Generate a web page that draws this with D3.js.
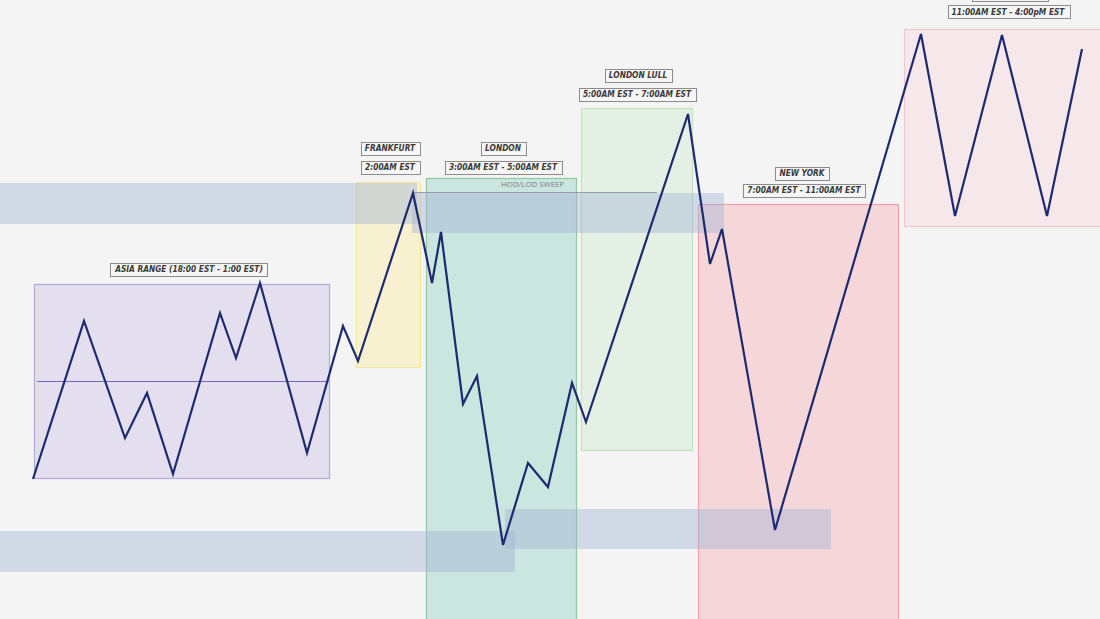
<!DOCTYPE html>
<html><head><meta charset="utf-8">
<script src="https://cdn.jsdelivr.net/npm/d3@7"></script>
<style>html,body{margin:0;padding:0;background:#f4f4f4;overflow:hidden}</style>
</head><body>
<svg id="chart" width="1100" height="619"></svg>
<script>
// ---- price path (time, price) ----
const pathTime  = [33,84,125,147,173,220,236,260,307,343,358,413,432,441,463,477,503,528,548,572,586,688,710,722,775,921,955,1002,1047,1082];
const pathPrice = [140,298,181,226,145,306,261,336,166,293,258,426,336,387,215,243,74,156,132,236,197,505,355,390,89,585,403,584,403,570];

// ---- sessions ----
const sessionNames = ["asia","frankfurt","london","lull","newyork","pm"];
const sessionStart = [34,356,426,581,698,904];
const sessionEnd   = [329,420,576,692,898,1104];
const sessionHigh  = [335,437,441,511,415,590];
const sessionLow   = [141,252,-25,169,-25,393];

// ---- liquidity bands ----
const bandStart = [0,412,0,505];
const bandEnd   = [417,724,515,831];
const bandHigh  = [436,426,88,110];
const bandLow   = [395,386,47,70];

// ---- HOD/LOD sweep line ----
const sweepStart = 412, sweepEnd = 657, sweepPrice = 427;
const sweepLabel = "HOD/LOD SWEEP";

// ---- labels ----
const labelText  = ["ASIA RANGE (18:00 EST - 1:00 EST)","FRANKFURT","2:00AM EST","LONDON","3:00AM EST - 5:00AM EST","LONDON LULL","5:00AM EST - 7:00AM EST","NEW YORK","7:00AM EST - 11:00AM EST","11:00AM EST - 4:00pM EST"];
const labelTime  = [189,390,390,503,503,638,637,802,804,1008];
const labelPrice = [350,471,452,471,452,544,525,446,429,607];

// clipped label box at the top edge (its text lies outside the picture)
const clippedStart = 972, clippedEnd = 1048, clippedPrice = 624;

const W = 1100, H = 619;
const x = d3.scaleLinear().domain([0,1100]).range([0,W]);
const y = d3.scaleLinear().domain([0,619]).range([H,0]);

const sessionFill   = {asia:"#e3dfee",frankfurt:"#f7f1d2",london:"#cbe6df",lull:"#e5f0e4",newyork:"#f5d6d9",pm:"#f6e7eb"};
const sessionStroke = {asia:"#b1a9dc",frankfurt:"#f3e5a2",london:"#8ecb9c",lull:"#c2e2c0",newyork:"#f1a2aa",pm:"#f3c8d1"};

const svg = d3.select("#chart");
svg.append("rect").attr("width",W).attr("height",H).attr("fill","#f4f4f4");

const sessions = sessionNames.map((n,i)=>({n,x0:sessionStart[i],x1:sessionEnd[i],hi:sessionHigh[i],lo:sessionLow[i]}));
svg.append("g").selectAll("rect").data(sessions).join("rect")
  .attr("x",d=>x(d.x0)+0.5).attr("y",d=>y(d.hi)+0.5)
  .attr("width",d=>x(d.x1)-x(d.x0)).attr("height",d=>y(d.lo)-y(d.hi))
  .attr("fill",d=>sessionFill[d.n]).attr("stroke",d=>sessionStroke[d.n]).attr("stroke-width",1.2);

// asia midline
const asia = sessions[0];
svg.append("line")
  .attr("x1",x(asia.x0)+3).attr("x2",x(asia.x1))
  .attr("y1",Math.round(y((asia.hi+asia.lo)/2))+0.5).attr("y2",Math.round(y((asia.hi+asia.lo)/2))+0.5)
  .attr("stroke","#7a66bd").attr("stroke-width",1);

// bands
const bands = bandStart.map((b,i)=>({x0:b,x1:bandEnd[i],hi:bandHigh[i],lo:bandLow[i]}));
svg.append("g").selectAll("rect").data(bands).join("rect")
  .attr("x",d=>x(d.x0)).attr("y",d=>y(d.hi))
  .attr("width",d=>x(d.x1)-x(d.x0)).attr("height",d=>y(d.lo)-y(d.hi))
  .attr("fill","rgba(160,179,213,0.42)");

// sweep line
svg.append("line").attr("x1",x(sweepStart)).attr("x2",x(sweepEnd))
  .attr("y1",Math.round(y(sweepPrice))+0.5).attr("y2",Math.round(y(sweepPrice))+0.5)
  .attr("stroke","#9a9ab0").attr("stroke-width",1);
svg.append("text").attr("x",x(564)).attr("y",y(sweepPrice)-5)
  .attr("text-anchor","end").attr("font-family","'Open Sans',sans-serif").attr("font-size",7.8)
  .attr("fill","#7d7d85").text(sweepLabel);

// price line
const pts = pathTime.map((t,i)=>[t,pathPrice[i]]);
svg.append("path").datum(pts)
  .attr("d",d3.line().x(d=>x(d[0])).y(d=>y(d[1])))
  .attr("fill","none").attr("stroke","#1d2a70").attr("stroke-width",2.2).attr("stroke-linejoin","miter");

// labels
const lg = svg.append("g");
labelText.forEach((t,i)=>{
  const g = lg.append("g");
  const rect = g.append("rect");
  const txt = g.append("text").attr("x",x(labelTime[i])).attr("y",y(labelPrice[i])+3)
    .attr("text-anchor","middle").attr("font-family","'DejaVu Sans Condensed','DejaVu Sans',sans-serif")
    .attr("font-weight","bold").attr("font-style","italic").attr("font-size",8.3)
    .attr("fill","#3a3a3a").text(t);
  const bb = txt.node().getBBox();
  rect.attr("x",Math.round(bb.x-4)+0.5).attr("y",Math.round(y(labelPrice[i])-6.5)+0.5)
    .attr("width",Math.round(bb.width+8)).attr("height",13)
    .attr("fill","#f6f6f6").attr("stroke","#8c8c8c").attr("stroke-width",1);
});
lg.append("rect").attr("x",x(clippedStart)+0.5).attr("y",Math.round(y(clippedPrice)-6.5)+0.5)
  .attr("width",x(clippedEnd)-x(clippedStart)).attr("height",13)
  .attr("fill","#f6f6f6").attr("stroke","#8c8c8c").attr("stroke-width",1);
</script>
</body></html>
